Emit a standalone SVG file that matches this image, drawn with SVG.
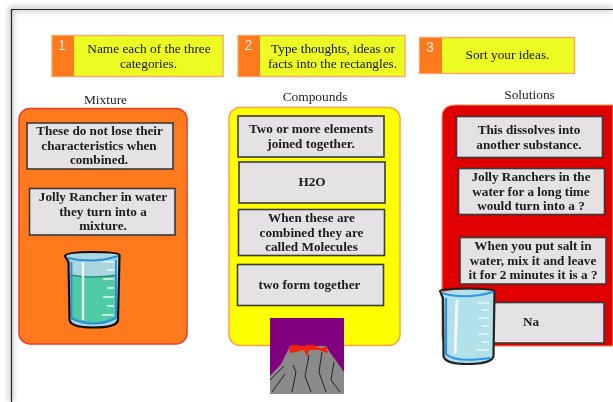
<svg xmlns="http://www.w3.org/2000/svg" width="613" height="402" viewBox="0 0 613 402">
<defs>
<style>
text{font-family:"Liberation Serif","Times New Roman",serif;fill:#111;text-anchor:middle}
.b{font-weight:bold;font-size:13.2px;fill:#1a1a1a}
.h{font-size:13.300px}
.t{font-size:13.400px;fill:#222}
.n{font-family:"Liberation Sans",Arial,sans-serif;font-size:14px;fill:#ffe9d8;text-anchor:start}
.box{fill:#e4e2e4;stroke:#3a3a3a;stroke-width:1.6}
.hy{fill:#ecfb24;stroke:#fda66a;stroke-width:1.4}
.ho{fill:#fe7a1e}
.tick{stroke:#e8f6f4;stroke-width:1.3;fill:none}
</style>
<filter id="soft" x="-2%" y="-2%" width="104%" height="104%"><feGaussianBlur stdDeviation="0.4"/></filter>
<filter id="sh" x="-5%" y="-5%" width="110%" height="110%"><feGaussianBlur stdDeviation="3"/></filter>
</defs>
<rect width="613" height="402" fill="#fff"/>
<g id="frame">
<path d="M11 402V9H613" fill="none" stroke="#bbb" stroke-width="4" filter="url(#sh)"/>
<path d="M11.500 402V9.500H613" fill="none" stroke="#222" stroke-width="1.2"/>
</g>
<g filter="url(#soft)">
<g id="step1">
<rect class="hy" x="52" y="35.500" width="171" height="41"/>
<rect class="ho" x="52.500" y="36" width="21.500" height="40"/>
<text class="n" x="58" y="50">1</text>
<text class="h" x="149" y="53">Name each of the three</text>
<text class="h" x="148.500" y="68">categories.</text>
</g>
<g id="step2">
<rect class="hy" x="238" y="35.500" width="167" height="41"/>
<rect class="ho" x="238.500" y="36" width="21.500" height="40"/>
<text class="n" x="244.500" y="50">2</text>
<text class="h" x="333" y="53">Type thoughts, ideas or</text>
<text class="h" x="332.500" y="68">facts into the rectangles.</text>
</g>
<g id="step3">
<rect class="hy" x="419.500" y="37.500" width="155" height="36"/>
<rect class="ho" x="420" y="38" width="22" height="35"/>
<text class="n" x="426" y="52">3</text>
<text class="h" x="507.500" y="59">Sort your ideas.</text>
</g>
<g id="mixture">
<text class="t" x="105.500" y="104">Mixture</text>
<rect x="19" y="108.500" width="168" height="235.500" rx="11" fill="#fe7a1e" stroke="#ef3b2a" stroke-width="1.500"/>
<rect class="box" x="27" y="123" width="146" height="46"/>
<text class="b" x="99.500" y="135">These do not lose their</text>
<text class="b" x="99" y="150">characteristics when</text>
<text class="b" x="99" y="164">combined.</text>
<rect class="box" x="29.500" y="188.500" width="145.500" height="46.500"/>
<text class="b" x="103" y="201">Jolly Rancher in water</text>
<text class="b" x="103" y="216">they turn into a</text>
<text class="b" x="103" y="230">mixture.</text>
</g>
<g id="beaker-green">
<path d="M65 255Q90 250 119 254L118 320Q117 327 93 327Q71 327 69.500 320L68.500 262Z" fill="#a9d6df"/>
<path d="M70 275Q93 279 117 275L116.500 316Q115 324 93 324Q72 324 71 316Z" fill="#4fcba5"/>
<path d="M70 275Q93 279 117 275" fill="none" stroke="#2b8d73" stroke-width="1.400"/>
<path d="M71 318Q93 329 116 318" fill="none" stroke="#2c8fd8" stroke-width="2.200"/>
<path d="M68 258Q93 264 118 256" fill="none" stroke="#2c8fd8" stroke-width="2"/>
<path d="M71.500 262V318M116 260V318" stroke="#2c8fd8" stroke-width="1.800" fill="none"/>
<path d="M83 262V320" stroke="#eef8f4" stroke-width="2.400" fill="none"/>
<path class="tick" d="M103 262H114M107 270H114M103 279H114M107 288H114M103 297H114M107 306H114M102 315H114"/>
<path d="M65 256Q66 252 92 252Q118 252 119.500 255L118 320Q117 327.500 93 327.500Q71 327.500 69.500 320L68.500 262Q66 258 65 256Z" fill="none" stroke="#111" stroke-width="2.200"/>
</g>
<g id="compounds">
<text class="t" x="315" y="101">Compounds</text>
<rect x="229" y="107.500" width="171" height="238" rx="11" fill="#ffff00" stroke="#fda24a" stroke-width="1.500"/>
<rect class="box" x="238" y="116" width="146" height="41"/>
<text class="b" x="311" y="133">Two or more elements</text>
<text class="b" x="311" y="148">joined together.</text>
<rect class="box" x="239" y="162" width="146" height="41"/>
<text class="b" x="312" y="186">H2O</text>
<rect class="box" x="238.500" y="209.500" width="146" height="46"/>
<text class="b" x="311.500" y="222">When these are</text>
<text class="b" x="311.500" y="237">combined they are</text>
<text class="b" x="311.500" y="251">called Molecules</text>
<rect class="box" x="237.500" y="264.500" width="146" height="41"/>
<text class="b" x="309.500" y="289">two form together</text>
</g>
<g id="volcano">
<rect x="270" y="318" width="74" height="76" fill="#800080"/>
<path d="M270 376L281 364L286 354L290 346L326 346L331 354L337 362L344 372V394H270Z" fill="#8a8a8a"/>
<path d="M289 349Q291 344 297 345Q303 347 308 345Q313 344 317 347L322 348L326 346L328 353L324 352L319 350L309 350L307 357L304 350L296 352L290 353Z" fill="#f42010"/>
<path d="M272 392L285 374M292 392L296 372L293 365M309 355L305 376L311 392M322 352L319 372L326 392M334 362L331 380L340 392M270 380L284 366" stroke="#222" stroke-width="1" fill="none"/>
</g>
<g id="solutions">
<text class="t" x="529.500" y="99">Solutions</text>
<path d="M613 105H456Q442 105 442 117V335Q442 346 452 346H613Z" fill="#e00000" stroke="#fb8a5a" stroke-width="1.200"/>
<rect class="box" x="456.500" y="116.500" width="146" height="41"/>
<text class="b" x="529" y="134">This dissolves  into</text>
<text class="b" x="529" y="149">another substance.</text>
<rect class="box" x="458.500" y="168.500" width="146" height="46"/>
<text class="b" x="531" y="181">Jolly Ranchers in the</text>
<text class="b" x="531" y="195.500">water for a long time</text>
<text class="b" x="531" y="209.500">would turn into a ?</text>
<rect class="box" x="460" y="237.500" width="146" height="46.500"/>
<text class="b" x="533" y="250">When you put salt in</text>
<text class="b" x="533" y="265">water, mix it and leave</text>
<text class="b" x="533" y="279">it for 2 minutes it is a ?</text>
<rect class="box" x="458" y="302.500" width="146" height="40.500"/>
<text class="b" x="531" y="326">Na</text>
</g>
<g id="beaker-blue">
<path d="M440 292Q465 287 494 291L493.500 356Q492 364 467 364Q445 364 443.500 356L443 298Z" fill="#b3e1ea"/>
<path d="M442 293Q465 300 493 292" fill="none" stroke="#2c95ea" stroke-width="2.200"/>
<path d="M446 298L446 354Q455 363 490 358" fill="none" stroke="#2c95ea" stroke-width="2.200"/>
<path d="M457 300L455 354" stroke="#f2fbfa" stroke-width="2.800" fill="none"/>
<path class="tick" d="M478 303H489M482 310H489M478 318H489M482 326H489M478 334H489M482 342H489M476 350H489"/>
<path d="M440 291Q441 288.500 467 288.500Q493 288.500 494.500 291L493.500 356Q492 364 467 364Q445 364 443.500 356L443 298Q441 294 440 291Z" fill="none" stroke="#222" stroke-width="2.200"/>
</g>
</g>
</svg>
